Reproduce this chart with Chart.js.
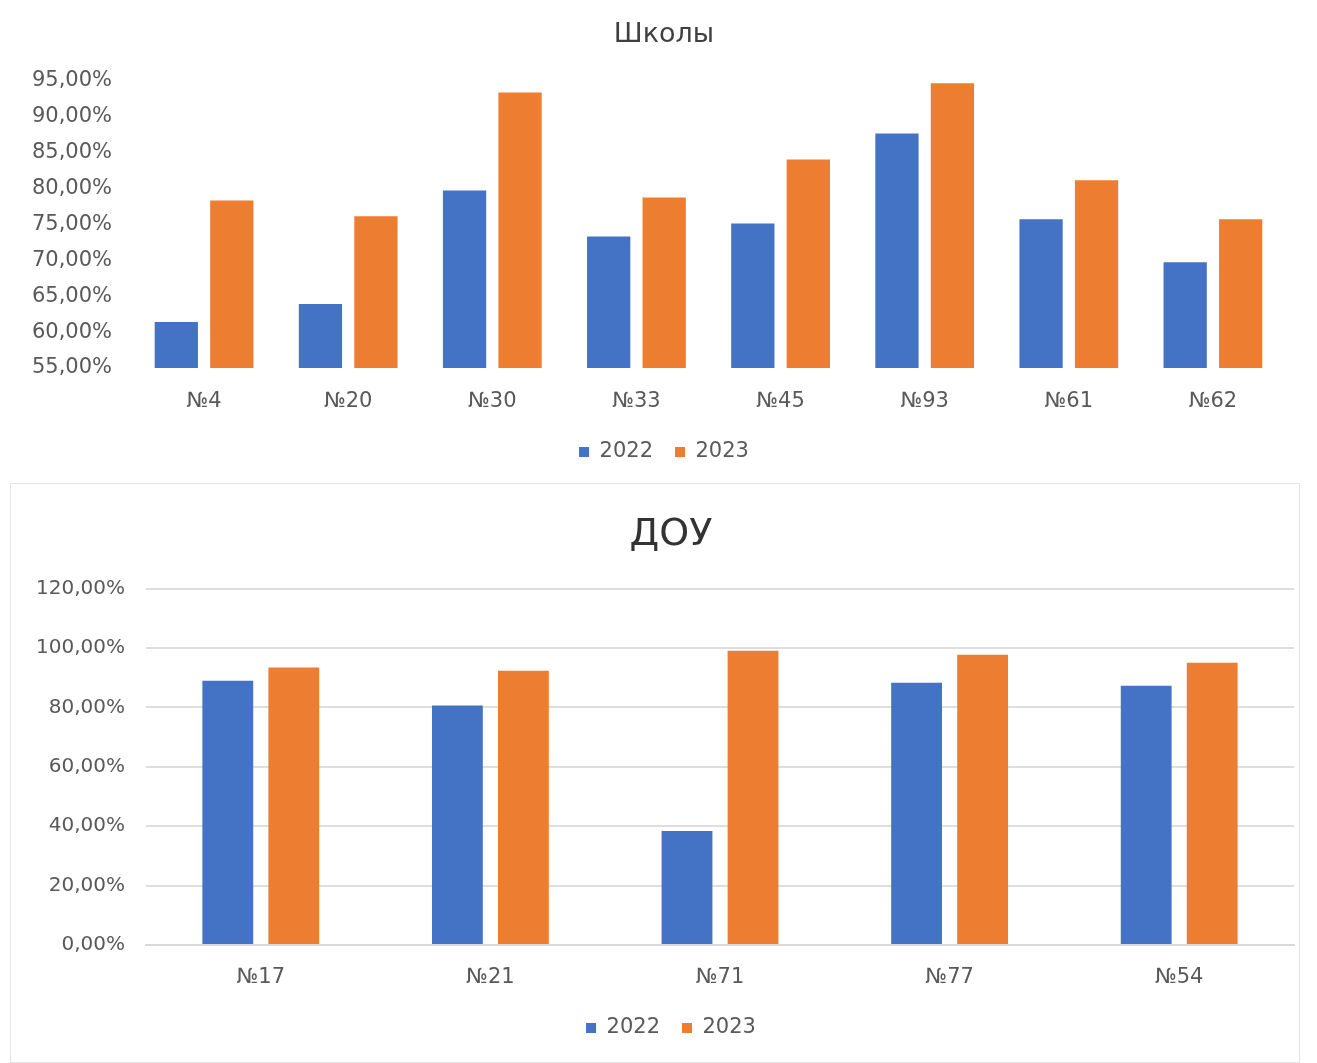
<!DOCTYPE html>
<html>
<head>
<meta charset="utf-8">
<script src="https://cdn.jsdelivr.net/npm/chart.js@4.4.1/dist/chart.umd.min.js"></script>
<style>
  body { margin: 0; background: #fff; overflow: hidden; }
  #top { position: absolute; left: 0; top: 0; width: 1328px; height: 480px; }
  #frame { position: absolute; left: 10px; top: 483px; width: 1288px; height: 578px; border: 1px solid #e4e4e4; }
  #bottom { position: absolute; left: 11px; top: 484px; width: 1320px; height: 578px; }
</style>
</head>
<body>
<div id="top"><canvas id="schools"></canvas></div>
<div id="frame"></div>
<div id="bottom"><canvas id="dou"></canvas></div>
<script>
// Школы
const schoolLabels = ['№4', '№20', '№30', '№33', '№45', '№93', '№61', '№62'];
const schools2022 = [61.4, 63.9, 79.7, 73.3, 75.1, 87.6, 75.7, 69.7];
const schools2023 = [78.3, 76.1, 93.3, 78.7, 84.0, 94.6, 81.1, 75.7];

// ДОУ
const douLabels = ['№17', '№21', '№71', '№77', '№54'];
const dou2022 = [89.0, 80.6, 38.4, 88.3, 87.3];
const dou2023 = [93.4, 92.3, 99.1, 97.7, 95.0];

const seriesNames = ['2022', '2023'];
const BLUE = '#4472C4';
const ORANGE = '#ED7D31';
const TEXT = '#595959';
const FONT = 'DejaVu Sans';

const pct = v => v.toFixed(2).replace('.', ',') + '%';

function makeChart(id, labels, a, b, opts) {
  return new Chart(document.getElementById(id), {
    type: 'bar',
    data: {
      labels: labels,
      datasets: [
        { label: seriesNames[0], data: a, backgroundColor: BLUE,
          categoryPercentage: opts.cat, barPercentage: opts.bar },
        { label: seriesNames[1], data: b, backgroundColor: ORANGE,
          categoryPercentage: opts.cat, barPercentage: opts.bar },
      ],
    },
    options: {
      responsive: true,
      maintainAspectRatio: false,
      animation: false,
      layout: { padding: { left: 0, right: 0, top: 0, bottom: opts.bottomPad } },
      plugins: {
        title: {
          display: true,
          text: opts.title,
          color: opts.titleColor,
          font: { family: FONT, size: opts.titleSize, weight: 'normal' },
          padding: opts.titlePad,
        },
        legend: {
          position: 'bottom',
          labels: {
            color: TEXT,
            font: { family: FONT, size: 21 },
            boxWidth: 10,
            boxHeight: 10,
            padding: 22,
          },
        },
        tooltip: { enabled: false },
      },
      scales: {
        x: {
          grid: { display: false, drawTicks: false },
          border: { display: opts.xBorder, color: '#d9d9d9', width: 2 },
          ticks: { color: TEXT, font: { family: FONT, size: 21 }, padding: opts.xPad },
          afterFit: s => { s.height = opts.xHeight; },
        },
        y: {
          min: opts.min,
          max: opts.max,
          border: { display: false },
          grid: { display: opts.grid, color: '#dedede', lineWidth: 2, drawTicks: false },
          ticks: {
            stepSize: opts.step,
            color: TEXT,
            font: { family: FONT, size: opts.yFont },
            padding: opts.yPad,
            callback: v => pct(v),
          },
          afterFit: s => { s.width = opts.yWidth; },
        },
        // empty right margin so the title sits where the reference has it
        spacer: {
          type: 'linear',
          position: 'right',
          grid: { display: false, drawTicks: false },
          border: { display: false },
          ticks: { display: false },
          afterFit: s => { s.width = opts.rightGap; },
        },
      },
    },
  });
}

makeChart('schools', schoolLabels, schools2022, schools2023, {
  title: 'Школы', titleSize: 27, titleColor: '#404040', titlePad: { top: 19, bottom: 29 },
  bottomPad: 7.5,
  min: 55, max: 95, step: 5, grid: false, xBorder: false,
  yFont: 21, yPad: 20, yWidth: 132, rightGap: 43,
  xPad: 21, xHeight: 51.5,
  cat: 0.77, bar: 0.78,
});

makeChart('dou', douLabels, dou2022, dou2023, {
  title: 'ДОУ', titleSize: 38, titleColor: '#333333', titlePad: { top: 28, bottom: 31 },
  bottomPad: 13.5,
  min: 0, max: 120, step: 20, grid: true, xBorder: true,
  yFont: 20, yPad: 21, yWidth: 135, rightGap: 37,
  xPad: 20, xHeight: 50.5,
  cat: 0.575, bar: 0.77,
});
</script>
</body>
</html>
